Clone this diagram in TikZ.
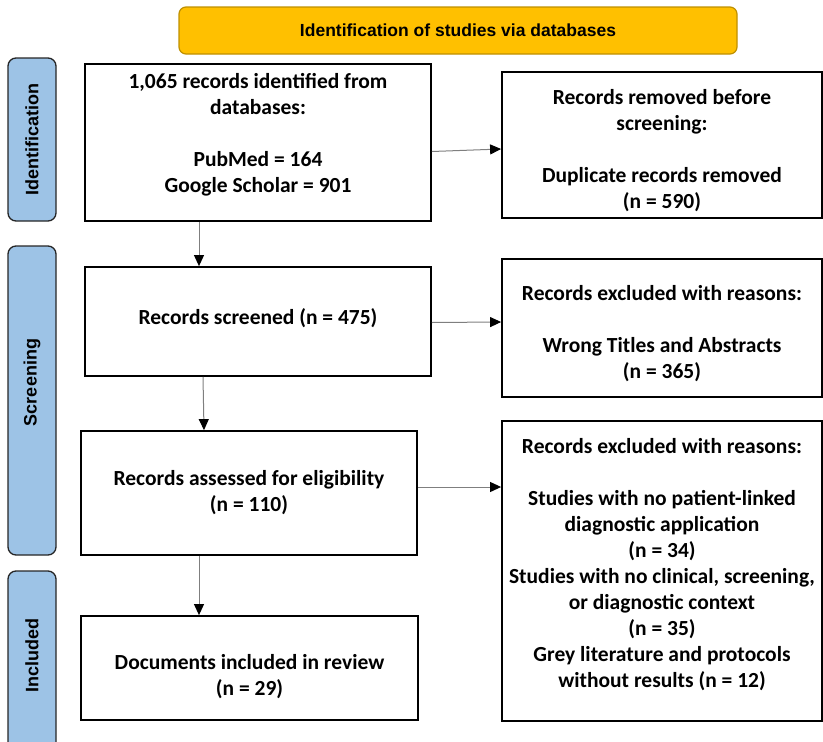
\documentclass[tikz,border=0pt]{standalone}
\usepackage{fontspec}
\setmainfont{Carlito}
\newfontfamily\arialfont{Liberation Sans}
\usetikzlibrary{arrows.meta,positioning}

\definecolor{headgold}{HTML}{FFC000}
\definecolor{headedge}{HTML}{BF9000}
\definecolor{phaseblue}{HTML}{9DC3E6}
\definecolor{phaseedge}{HTML}{262626}
\definecolor{linegrey}{HTML}{7F7F7F}

\begin{document}
\begin{tikzpicture}[x=1pt,y=-1pt,
  header/.style={draw=headedge,fill=headgold,rounded corners=7pt,line width=1.2pt,minimum width=558pt,minimum height=47pt,font=\arialfont\bfseries\fontsize{17.5}{21}\selectfont},
  phase/.style={draw=phaseedge,fill=phaseblue,rounded corners=8pt,line width=1.3pt,rotate=90,minimum height=48pt,font=\arialfont\bfseries\fontsize{18}{22}\selectfont},
  record/.style={draw=black,line width=1.8pt,align=center,inner sep=0pt,font=\bfseries\fontsize{21.5}{26}\selectfont},
  flow/.style={draw=linegrey,line width=1pt,-{Triangle[length=11pt,width=10pt,color=black]}}]
\useasboundingbox (0,0) rectangle (823,742);

% header and phases
\node[header] (head) at (458,30.5) {Identification of studies via databases};
\node[phase,minimum width=163pt] (ident) at (32,139.5) {Identification};
\node[phase,minimum width=309pt] (screen) at (32,400.5) {\hspace*{36pt}Screening};
\node[phase,minimum width=181pt] (incl) at (32,661.5) {\hspace*{12pt}Included};

% main column
\node[record,minimum width=346pt,minimum height=157pt,text depth=20pt] (found) at (258,142.5) {1,065 records identified from\\databases:\\[26pt]PubMed = 164\\Google Scholar = 901};
\node[record,minimum width=346pt,minimum height=109pt,text depth=9pt] (screened) at (258,321.5) {Records screened (n = 475)};
\node[record,minimum width=336pt,minimum height=124pt] (elig) at (249,493) {Records assessed for eligibility\\(n = 110)};
\node[record,minimum width=337pt,minimum height=104pt,text height=59pt] (included) at (249.5,668) {Documents included in review\\(n = 29)};

% side column
\node[record,minimum width=320pt,minimum height=146pt,text height=130pt] (dupl) at (662,145) {Records removed before\\screening:\\[26pt]Duplicate records removed\\(n = 590)};
\node[record,minimum width=320pt,minimum height=138pt,text height=104pt] (excl1) at (662,328) {Records excluded with reasons:\\[26pt]Wrong Titles and Abstracts\\(n = 365)};
\node[record,minimum width=320pt,minimum height=300pt,text depth=17pt] (excl2) at (662,571) {Records excluded with reasons:\\[26pt]Studies with no patient-linked\\diagnostic application\\(n = 34)\\Studies with no clinical, screening,\\or diagnostic context\\(n = 35)\\Grey literature and protocols\\without results (n = 12)};

\draw [flow] ([yshift=-9pt]found.east) to ([yshift=-4pt]dupl.west);
\draw [flow] ([xshift=-59pt]found.south) to ([xshift=-59pt]screened.north);
\draw [flow] ([yshift=-1pt]screened.east) to ([yshift=6pt]excl1.west);
\draw [flow] ([xshift=-55pt]screened.south) to ([xshift=-45pt]elig.north);
\draw [flow] ([yshift=6pt]elig.east) to ([yshift=84pt]excl2.west);
\draw [flow] ([xshift=-50pt]elig.south) to ([xshift=-50.5pt]included.north);
\end{tikzpicture}
\end{document}
